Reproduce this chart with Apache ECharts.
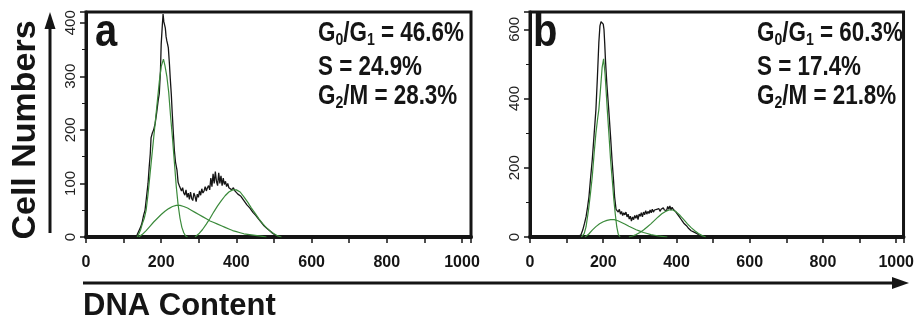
<!DOCTYPE html>
<html><head><meta charset="utf-8">
<script src="https://cdn.jsdelivr.net/npm/echarts@6/dist/echarts.min.js"></script>
<style>html,body{margin:0;padding:0;background:#fff}#c{width:917px;height:325px}</style>
</head><body><div id="c"></div><script>
// ---- data (DNA content channel, cell count) ----
const panelLabels = ['a', 'b'];
const statsA = [['G', '0', '/G', '1', ' = 46.6%'], ['S = 24.9%'], ['G', '2', '/M = 28.3%']];
const statsB = [['G', '0', '/G', '1', ' = 60.3%'], ['S = 17.4%'], ['G', '2', '/M = 21.8%']];
const xAxisTitle = 'DNA Content';
const yAxisTitle = 'Cell Numbers';

const aTotal = [[130,0],[136,4],[139,9],[145,18],[149,26],[153,40],[157,50],[161,75],[165,100],[168,130],[171,156],[173,185],[176,193],[180,200],[184,212],[188,232],[192,255],[195,268],[198,310],[200,360],[203,395],[205,416],[207,402],[209,396],[211,390],[213,374],[215,366],[217,360],[219,353],[222,322],[224,297],[227,265],[229,236],[232,198],[235,162],[238,140],[242,125],[245,102],[248,96],[251,93],[254,86],[257,92],[260,82],[263,78],[266,88],[269,74],[272,82],[275,70],[278,84],[281,72],[284,68],[287,82],[290,76],[293,66],[296,80],[299,74],[302,86],[305,78],[308,90],[311,82],[314,86],[317,94],[320,86],[323,92],[326,96],[329,88],[332,110],[335,94],[338,118],[341,100],[344,122],[347,104],[350,96],[353,120],[356,100],[359,114],[362,96],[365,110],[368,98],[371,104],[374,94],[377,100],[380,92],[384,94],[388,88],[392,92],[396,86],[400,88],[404,80],[408,82],[412,76],[416,74],[420,68],[424,66],[428,60],[432,58],[436,54],[440,52],[444,46],[448,46],[452,40],[456,36],[460,34],[464,29],[468,27],[472,22],[476,21],[480,17],[484,16],[488,12],[492,11],[496,7],[500,6],[505,3],[510,2],[516,0]];
const aG1 = [[136,0],[140,5],[145,13],[150,25],[155,35],[160,50],[165,80],[170,115],[175,150],[180,185],[185,220],[190,255],[195,290],[200,318],[206,332],[210,320],[215,300],[220,270],[225,225],[230,185],[235,140],[240,95],[245,60],[250,35],[255,18],[260,8],[265,2],[270,0]];
const aS = [[140,0],[150,5],[160,12],[170,20],[180,28],[190,35],[200,42],[210,48],[220,53],[230,57],[240,59],[250,59],[260,57],[270,54],[280,50],[290,46],[300,42],[310,38],[320,34],[330,30],[340,27],[350,24],[360,21],[370,18],[380,15],[390,12],[400,10],[410,8],[420,6],[430,5],[440,4],[450,3],[460,2],[470,1],[480,0]];
const aG2 = [[290,0],[300,6],[310,14],[320,24],[330,35],[340,47],[350,58],[360,68],[370,77],[380,84],[390,88],[400,88],[410,84],[420,75],[430,65],[440,54],[450,44],[460,34],[470,25],[480,17],[490,11],[500,6],[510,2],[520,0]];

const bTotal = [[130,0],[139,6],[144,20],[149,40],[153,58],[157,85],[161,116],[165,165],[170,223],[175,295],[180,368],[184,460],[188,562],[191,610],[194,622],[197,618],[200,615],[202,600],[204,560],[206,513],[210,440],[215,368],[220,290],[224,223],[228,165],[231,116],[235,80],[238,76],[241,72],[244,80],[247,66],[250,74],[253,62],[256,70],[259,64],[262,72],[265,58],[268,66],[271,52],[274,60],[277,46],[280,58],[283,50],[286,62],[289,54],[292,64],[295,50],[298,66],[301,60],[304,70],[307,58],[310,72],[313,64],[316,76],[319,66],[322,74],[325,68],[328,78],[331,70],[334,80],[337,72],[340,78],[343,74],[346,80],[349,76],[352,82],[355,74],[358,80],[361,76],[364,84],[367,78],[370,82],[373,76],[376,88],[379,80],[382,90],[385,78],[388,86],[391,80],[394,84],[397,74],[400,70],[404,64],[408,58],[412,52],[416,46],[420,40],[424,36],[428,32],[432,26],[436,22],[440,18],[444,16],[448,14],[452,12],[456,10],[460,6],[464,3],[468,0]];
const bG1 = [[140,0],[148,10],[153,29],[160,80],[165,125],[170,174],[175,240],[180,300],[185,345],[188,368],[192,420],[197,490],[201,515],[205,470],[208,420],[211,368],[215,305],[220,223],[225,160],[229,107],[233,65],[237,29],[241,8],[246,0]];
const bS = [[150,0],[160,8],[170,20],[180,30],[190,38],[200,44],[210,48],[220,50],[230,50],[240,47],[250,42],[260,37],[270,31],[280,26],[290,21],[300,17],[310,13],[320,10],[330,7],[340,5],[350,3],[360,2],[375,0]];
const bG2 = [[270,0],[280,3],[290,7],[300,13],[310,20],[320,29],[330,38],[340,48],[350,58],[360,67],[370,74],[380,78],[390,78],[400,72],[410,62],[420,50],[430,38],[440,27],[450,18],[460,10],[470,4],[480,0]];

// ---- chart ----
const SANS = "'Liberation Sans', Arial, Helvetica, sans-serif";
const BLACK = '#151515';
const GREEN = '#3b8a3b';

function statText(parts) {
  if (parts.length === 1) return '{g|' + parts[0] + '}';
  return parts.map((p, i) => (i % 2 === 1 ? '{s|' + p + '}' : '{g|' + p + '}')).join('');
}
const rich = {
  g: { fontFamily: SANS, fontWeight: 'bold', fontSize: 27, lineHeight: 30, fill: BLACK },
  s: { fontFamily: SANS, fontWeight: 'bold', fontSize: 17, lineHeight: 12, verticalAlign: 'bottom', fill: BLACK }
};

function xAxis(gi, max) {
  return {
    type: 'value', gridIndex: gi, min: 0, max: max, interval: 200,
    axisLine: { show: true, onZero: false, lineStyle: { color: BLACK, width: 4 } },
    axisTick: { show: true, length: 6, lineStyle: { color: BLACK, width: 1.5 } },
    minorTick: { show: true, splitNumber: 2, length: 6, lineStyle: { color: BLACK, width: 1.5 } },
    splitLine: { show: false },
    axisLabel: { showMaxLabel: false, margin: 18, fontFamily: SANS, fontWeight: 'bold', fontSize: 16, color: BLACK,
      formatter: v => String(v) }
  };
}
function yAxis(gi, max, interval) {
  return {
    type: 'value', gridIndex: gi, min: 0, max: max, interval: interval,
    axisLine: { show: true, onZero: false, lineStyle: { color: BLACK, width: 3 } },
    axisTick: { show: true, length: 6, lineStyle: { color: BLACK, width: 1.5 } },
    minorTick: { show: true, splitNumber: 2, length: 4, lineStyle: { color: BLACK, width: 1 } },
    splitLine: { show: false },
    axisLabel: { showMaxLabel: false, rotate: 90, margin: 8, fontFamily: SANS, fontSize: 15, color: '#222',
      formatter: v => String(v) }
  };
}
function line(data, xi, color, w, z) {
  return { type: 'line', xAxisIndex: xi, yAxisIndex: xi, data: data, showSymbol: false, symbol: 'none',
    lineStyle: { color: color, width: w }, z: z, silent: true };
}

const chart = echarts.init(document.getElementById('c'), null, { renderer: 'canvas' });
const statY = [34, 68, 97];
const graphic = [];
[[statsA, 318], [statsB, 757]].forEach(([st, x]) => {
  st.forEach((parts, i) => {
    graphic.push({ type: 'text', x: x, y: statY[i], scaleX: 0.83, style: { text: statText(parts), rich: rich, textAlign: 'left', textVerticalAlign: 'middle' } });
  });
});
graphic.push({ type: 'text', x: 95, y: 33, scaleX: 0.85, style: { text: panelLabels[0], font: "bold 47px " + SANS, fill: BLACK, textAlign: 'left', textVerticalAlign: 'middle' } });
graphic.push({ type: 'text', x: 533, y: 33, scaleX: 0.85, style: { text: panelLabels[1], font: "bold 47px " + SANS, fill: BLACK, textAlign: 'left', textVerticalAlign: 'middle' } });
graphic.push({ type: 'text', x: 26, y: 130, rotation: Math.PI / 2, style: { text: yAxisTitle, font: "bold 34px " + SANS, fill: BLACK, textAlign: 'center', textVerticalAlign: 'middle' } });
graphic.push({ type: 'text', x: 83, y: 306, style: { text: xAxisTitle, font: "bold 31px " + SANS, fill: BLACK, textAlign: 'left', textVerticalAlign: 'middle' } });
graphic.push({ type: 'line', shape: { x1: 50, y1: 233, x2: 50, y2: 26 }, style: { stroke: BLACK, lineWidth: 3 } });
graphic.push({ type: 'polygon', shape: { points: [[50, 12], [44.5, 29], [55.5, 29]] }, style: { fill: BLACK } });
graphic.push({ type: 'line', shape: { x1: 83, y1: 283, x2: 894, y2: 283 }, style: { stroke: BLACK, lineWidth: 3 } });
graphic.push({ type: 'polygon', shape: { points: [[909, 283], [892, 277], [892, 289]] }, style: { fill: BLACK } });

chart.setOption({
  animation: false,
  backgroundColor: '#fff',
  grid: [
    { left: 86, top: 12, width: 385, height: 225, show: true, borderColor: BLACK, borderWidth: 3, backgroundColor: 'transparent' },
    { left: 530, top: 12, width: 378, height: 225, show: true, borderColor: BLACK, borderWidth: 3, backgroundColor: 'transparent' }
  ],
  xAxis: [xAxis(0, 1024), xAxis(1, 1020)],
  yAxis: [yAxis(0, 420, 100), yAxis(1, 650, 200)],
  series: [
    line(aTotal, 0, BLACK, 1.3, 2), line(aG1, 0, GREEN, 1.2, 3), line(aS, 0, GREEN, 1.2, 3), line(aG2, 0, GREEN, 1.2, 3),
    line(bTotal, 1, BLACK, 1.3, 2), line(bG1, 1, GREEN, 1.2, 3), line(bS, 1, GREEN, 1.2, 3), line(bG2, 1, GREEN, 1.2, 3)
  ],
  graphic: graphic
});
</script></body></html>
